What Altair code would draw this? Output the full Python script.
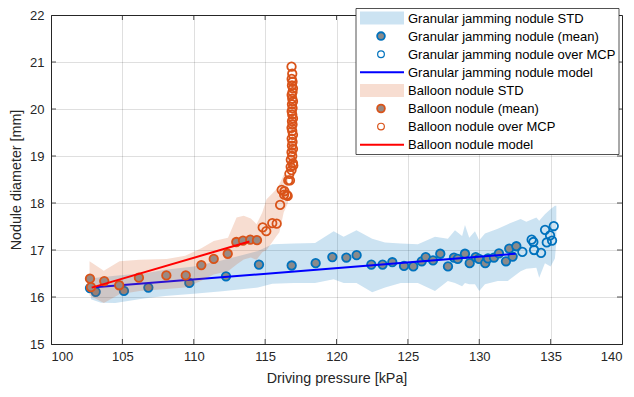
import altair as alt
import pandas as pd

BLUE = "#0072BD"
ORANGE = "#D95319"
TXT = "#262626"
FONT = "Liberation Sans"

# ---------------- data ----------------
g_mean_x = [102.73, 103.13, 105.11, 106.82, 109.69, 112.26, 114.57, 116.86, 118.54, 119.71,
            120.69, 121.41, 122.44, 123.23, 123.91, 124.73, 125.38, 125.97, 126.25, 126.76,
            127.27, 127.81, 128.23, 128.49, 129.00, 129.33, 129.75, 129.98, 130.42, 130.61,
            131.03, 131.38, 131.87, 132.10, 132.34, 132.60]
g_mean_y = [16.19, 16.11, 16.13, 16.20, 16.30, 16.44, 16.69, 16.67, 16.72, 16.85,
            16.84, 16.89, 16.69, 16.69, 16.74, 16.66, 16.65, 16.76, 16.85, 16.78,
            16.92, 16.65, 16.84, 16.81, 16.92, 16.72, 16.85, 16.81, 16.72, 16.82,
            16.84, 16.93, 16.76, 17.03, 16.86, 17.08]

g_over_x = [133.02, 133.67, 133.79, 133.84, 134.33, 134.61, 134.73, 134.96, 135.10, 135.22]
g_over_y = [16.96, 17.22, 17.17, 17.00, 16.94, 17.43, 17.16, 17.31, 17.20, 17.51]

g_band_x = [102.8, 103.5, 104.5, 105.5, 106.5, 108.0, 110.0, 112.0, 113.5, 114.5, 115.5, 117.0,
            118.5, 119.8, 120.5, 121.4, 122.5, 123.4, 124.5, 125.7, 126.9, 127.8, 128.3, 128.8,
            129.0, 129.3, 129.7, 130.0, 130.4, 131.3, 132.0, 132.9, 133.3, 134.0, 134.2, 134.6,
            135.0, 135.3, 135.4]
g_band_lo = [15.95, 15.88, 15.87, 15.92, 15.97, 16.02, 16.07, 16.12, 16.17, 16.20, 16.28, 16.30,
             16.30, 16.38, 16.30, 16.30, 16.10, 16.20, 16.30, 16.30, 16.13, 16.34, 16.30, 16.23,
             16.30, 16.27, 16.27, 16.13, 16.27, 16.34, 16.34, 16.55, 16.60, 16.62, 16.41, 16.72,
             16.65, 16.82, 17.17]
g_band_hi = [16.40, 16.42, 16.45, 16.48, 16.50, 16.58, 16.65, 16.78, 16.90, 16.98, 17.12, 17.14,
             17.15, 17.40, 17.28, 17.42, 17.24, 17.16, 17.14, 17.12, 17.28, 17.24, 17.42, 17.30,
             17.53, 17.26, 17.40, 17.21, 17.35, 17.45, 17.55, 17.66, 17.60, 17.69, 17.62, 17.76,
             17.87, 17.94, 17.94]

g_model_x = [102.85, 132.55]
g_model_y = [16.20, 16.92]

b_mean_x = [102.73, 102.80, 103.73, 104.78, 106.16, 108.08, 109.44, 110.53, 111.40, 112.38,
            112.98, 113.45, 113.96, 114.43]
b_mean_y = [16.39, 16.21, 16.34, 16.25, 16.41, 16.46, 16.46, 16.68, 16.81, 16.92,
            17.17, 17.20, 17.22, 17.21]

b_over_x = [114.83, 115.08, 115.50, 115.81, 116.05, 116.16, 116.33, 116.35, 116.51, 116.58,
            116.62, 116.74, 116.79, 116.97,
            116.70, 116.85, 116.95, 116.80, 116.90, 116.85, 116.95, 116.88, 116.92, 116.86,
            116.95, 116.90, 116.85, 116.92, 116.88, 116.95, 116.90, 116.86, 116.92, 116.88,
            116.95, 116.90, 116.86, 116.92, 116.95, 116.88, 116.92, 116.86, 116.90, 116.85]
b_over_y = [17.48, 17.40, 17.57, 17.56, 17.96, 18.28, 18.18, 18.25, 18.17, 18.15,
            18.48, 18.48, 18.77, 18.80,
            18.62, 18.70, 18.85, 18.92, 19.00, 19.08, 19.15, 19.22, 19.30, 19.37,
            19.45, 19.53, 19.60, 19.67, 19.74, 19.80, 19.88, 19.95, 20.02, 20.10,
            20.16, 20.22, 20.30, 20.36, 20.44, 20.50, 20.58, 20.64, 20.75, 20.90]

b_band_x = [102.7, 103.7, 104.8, 106.2, 108.1, 109.4, 110.5, 111.4, 112.4, 113.0, 113.5, 114.0,
            114.4, 114.8, 115.1, 115.5, 115.8, 116.0, 116.3, 116.6]
b_band_lo = [16.03, 15.87, 16.06, 16.13, 16.17, 16.20, 16.34, 16.48, 16.55, 16.69, 16.80, 16.84,
             16.79, 16.95, 17.00, 17.17, 17.30, 17.38, 17.80, 18.00]
b_band_hi = [16.76, 16.56, 16.76, 16.79, 16.81, 16.88, 17.03, 17.19, 17.26, 17.69, 17.73, 17.67,
             17.55, 17.80, 18.08, 18.20, 18.30, 18.40, 18.60, 18.60]

b_model_x = [102.85, 113.90]
b_model_y = [16.20, 17.18]

x_ticks = [100, 105, 110, 115, 120, 125, 130, 135, 140]
y_ticks = [15, 16, 17, 18, 19, 20, 21, 22]

legend_labels = ["Granular jamming nodule STD", "Granular jamming nodule (mean)",
                 "Granular jamming nodule over MCP", "Granular jamming nodule model",
                 "Balloon nodule STD", "Balloon nodule (mean)",
                 "Balloon nodule over MCP", "Balloon nodule model"]

# ---------------- chart ----------------
W, H = 571, 329
xs = alt.Scale(domain=[100, 140], nice=False)
ys = alt.Scale(domain=[15, 22], nice=False)
XT = "Driving pressure [kPa]"
YT = "Nodule diameter [mm]"


def X(f):
    return alt.X(f, type="quantitative", scale=xs, title=XT,
                 axis=alt.Axis(values=x_ticks, format="d"))


def Y(f):
    return alt.Y(f, type="quantitative", scale=ys, title=YT,
                 axis=alt.Axis(values=y_ticks, format="d"))


def band(xv, lo, hi, color):
    df = pd.DataFrame({"x": xv, "lo": lo, "hi": hi})
    return alt.Chart(df).mark_area(color=color, opacity=0.2, strokeWidth=0).encode(
        x=X("x"), y=Y("lo"), y2="hi")


def pts(xv, yv, stroke, fill):
    df = pd.DataFrame({"x": xv, "y": yv})
    m = alt.Chart(df).mark_point(shape="circle", size=72, strokeWidth=1.8, stroke=stroke,
                                 filled=fill is not None, fill=fill if fill else "transparent",
                                 fillOpacity=1, opacity=1)
    return m.encode(x=X("x"), y=Y("y"))


def line(xv, yv, color):
    df = pd.DataFrame({"x": xv, "y": yv})
    return alt.Chart(df).mark_line(color=color, strokeWidth=2).encode(x=X("x"), y=Y("y"))


layers = [
    band(g_band_x, g_band_lo, g_band_hi, BLUE),
    pts(g_mean_x, g_mean_y, BLUE, "#8a8a8a"),
    pts(g_over_x, g_over_y, BLUE, None),
    line(g_model_x, g_model_y, "#0000FF"),
    band(b_band_x, b_band_lo, b_band_hi, ORANGE),
    pts(b_mean_x, b_mean_y, ORANGE, "#998a84"),
    pts(b_over_x, b_over_y, ORANGE, None),
    line(b_model_x, b_model_y, "#FF0000"),
]

# inward tick marks (MATLAB style)
tdf_x = pd.DataFrame({"v": x_ticks[1:-1]})
tdf_y = pd.DataFrame({"v": y_ticks[1:-1]})
TL = 5
layers += [
    alt.Chart(tdf_x).mark_rule(color=TXT, strokeWidth=0.8).encode(x=X("v"), y=alt.value(H), y2=alt.value(H - TL)),
    alt.Chart(tdf_x).mark_rule(color=TXT, strokeWidth=0.8).encode(x=X("v"), y=alt.value(0), y2=alt.value(TL)),
    alt.Chart(tdf_y).mark_rule(color=TXT, strokeWidth=0.8).encode(y=Y("v"), x=alt.value(0), x2=alt.value(TL)),
    alt.Chart(tdf_y).mark_rule(color=TXT, strokeWidth=0.8).encode(y=Y("v"), x=alt.value(W), x2=alt.value(W - TL)),
]

# legend box
one = pd.DataFrame({"a": [0]})
LX0, LX1, LY0, LY1 = 305, 568, -6.5, 139.5
layers.append(alt.Chart(one).mark_rect(fill="white", stroke=TXT, strokeWidth=0.8).encode(
    x=alt.value(LX0), x2=alt.value(LX1), y=alt.value(LY0), y2=alt.value(LY1)))

row_y = [3.0 + 18.1 * i for i in range(8)]
SX0, SX1, SXC, TX = 309, 353, 330, 357
for i, lab in enumerate(legend_labels):
    yv = row_y[i]
    col = BLUE if i < 4 else ORANGE
    kind = i % 4
    if kind == 0:
        layers.append(alt.Chart(one).mark_rect(fill=col, opacity=0.2).encode(
            x=alt.value(SX0), x2=alt.value(SX1), y=alt.value(yv - 6.5), y2=alt.value(yv + 6.5)))
    elif kind == 1:
        layers.append(alt.Chart(one).mark_point(shape="circle", size=60, strokeWidth=1.8, stroke=col,
                                                filled=True, fill="#8a8a8a" if i < 4 else "#998a84",
                                                opacity=1).encode(
            x=alt.value(SXC), y=alt.value(yv)))
    elif kind == 2:
        layers.append(alt.Chart(one).mark_point(shape="circle", size=45, strokeWidth=1.2, stroke=col,
                                                opacity=1).encode(
            x=alt.value(SXC), y=alt.value(yv)))
    else:
        layers.append(alt.Chart(one).mark_rule(color="#0000FF" if i < 4 else "#FF0000", strokeWidth=2).encode(
            x=alt.value(SX0), x2=alt.value(SX1), y=alt.value(yv)))
    layers.append(alt.Chart(one).mark_text(align="left", baseline="middle", font=FONT, fontSize=13,
                                           color="black").encode(
        x=alt.value(TX), y=alt.value(yv + 0.5), text=alt.value(lab)))

chart = alt.layer(*layers).properties(
    width=W, height=H,
    autosize=alt.AutoSizeParams(type="none"),
    padding={"left": 43, "top": 7, "right": 4, "bottom": 45},
).configure_view(
    stroke=TXT, strokeWidth=1
).configure_axis(
    labelFont=FONT, titleFont=FONT, labelFontSize=13, titleFontSize=14.3,
    labelColor=TXT, titleColor=TXT, domainColor=TXT, domainWidth=1,
    gridColor=TXT, gridOpacity=0.15, grid=True, ticks=False,
    labelPadding=6, titleFontWeight="normal",
).configure_axisX(
    titlePadding=8
).configure_axisY(
    titlePadding=6, labelPadding=7
)

chart.save("out.html", embed_options={"renderer": "svg", "actions": False})
